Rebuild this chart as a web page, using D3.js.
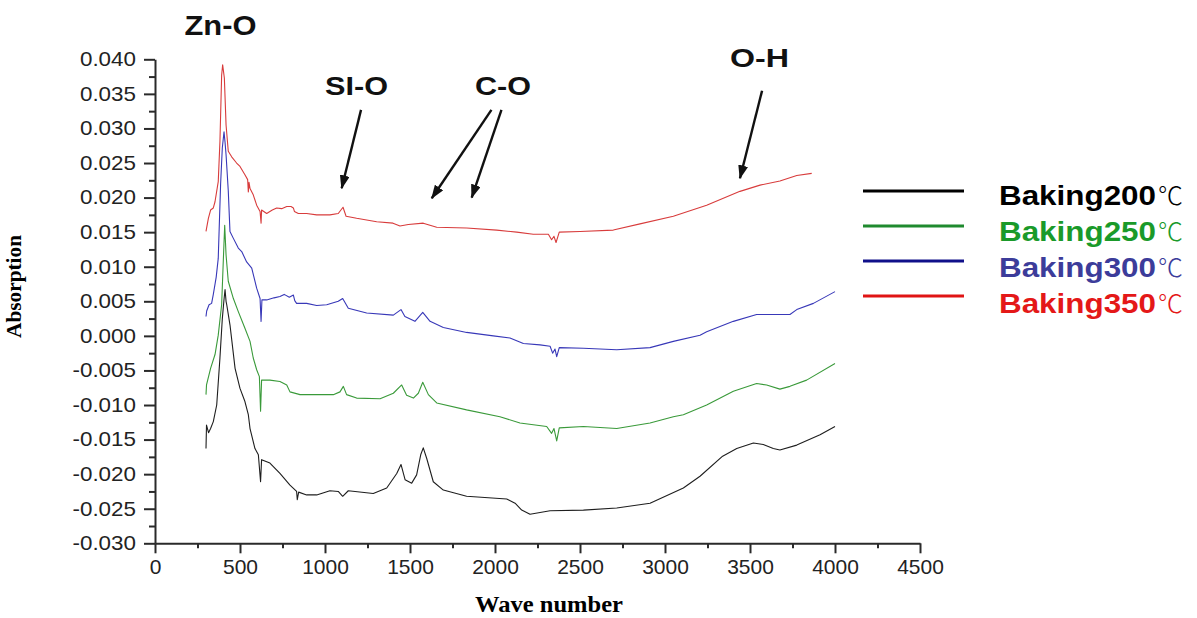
<!DOCTYPE html>
<html>
<head>
<meta charset="utf-8">
<script src="https://cdn.jsdelivr.net/npm/d3@7"></script>
<style>
  body { margin: 0; background: #fff; }
  svg { display: block; }
</style>
</head>
<body>
<svg id="chart" width="1197" height="618"></svg>
<script>
// FTIR absorption spectra, [wave number, absorption]
const baking200 = [
  [300,-0.0163],[303,-0.0129],[315,-0.0140],[327,-0.0134],[343,-0.0124],[363,-0.0100],
  [382,-0.0032],[396,0.0025],[405,0.0050],[412,0.0067],[418,0.0050],[422,0.0045],
  [441,0.0016],[471,-0.0047],[500,-0.0076],[529,-0.0095],[549,-0.0114],[559,-0.0134],
  [588,-0.0163],[608,-0.0172],[621,-0.0211],[627,-0.0179],[676,-0.0184],[735,-0.0199],
  [794,-0.0216],[833,-0.0225],[837,-0.0237],[845,-0.0226],[892,-0.0230],[951,-0.0230],
  [1029,-0.0224],[1078,-0.0225],[1104,-0.0232],[1137,-0.0224],[1284,-0.0228],[1363,-0.0220],
  [1422,-0.0199],[1447,-0.0186],[1471,-0.0208],[1510,-0.0213],[1539,-0.0201],[1563,-0.0172],
  [1578,-0.0162],[1598,-0.0177],[1637,-0.0211],[1696,-0.0223],[1833,-0.0232],[2069,-0.0236],
  [2118,-0.0242],[2157,-0.0252],[2206,-0.0258],[2324,-0.0253],[2520,-0.0252],[2716,-0.0249],
  [2912,-0.0242],[3108,-0.0220],[3206,-0.0203],[3339,-0.0174],[3422,-0.0163],[3520,-0.0155],
  [3578,-0.0157],[3637,-0.0163],[3676,-0.0165],[3775,-0.0158],[3912,-0.0143],[4000,-0.0131]
];
const baking250 = [
  [300,-0.0085],[303,-0.0071],[327,-0.0047],[353,-0.0027],[372,0.0001],[392,0.0045],
  [402,0.0110],[410,0.0160],[418,0.0117],[431,0.0079],[461,0.0054],[490,0.0035],
  [529,0.0011],[559,-0.0008],[578,-0.0032],[598,-0.0049],[614,-0.0059],[621,-0.0109],
  [627,-0.0064],[676,-0.0064],[735,-0.0066],[775,-0.0071],[794,-0.0081],[853,-0.0085],
  [951,-0.0085],[1049,-0.0085],[1088,-0.0081],[1108,-0.0073],[1127,-0.0085],[1186,-0.0090],
  [1324,-0.0091],[1402,-0.0083],[1451,-0.0071],[1480,-0.0086],[1520,-0.0090],[1549,-0.0083],
  [1575,-0.0067],[1608,-0.0085],[1657,-0.0097],[1833,-0.0107],[2029,-0.0117],[2147,-0.0126],
  [2304,-0.0131],[2333,-0.0141],[2347,-0.0134],[2363,-0.0152],[2378,-0.0133],[2520,-0.0131],
  [2716,-0.0134],[2912,-0.0126],[3049,-0.0117],[3108,-0.0114],[3245,-0.0100],[3402,-0.0080],
  [3539,-0.0069],[3598,-0.0071],[3676,-0.0077],[3735,-0.0073],[3833,-0.0064],[4000,-0.0040]
];
const baking300 = [
  [300,0.0028],[304,0.0036],[318,0.0045],[333,0.0047],[343,0.0060],[360,0.0085],
  [372,0.0112],[386,0.0220],[396,0.0272],[406,0.0295],[412,0.0280],[418,0.0262],
  [431,0.0210],[441,0.0151],[461,0.0141],[490,0.0127],[510,0.0122],[539,0.0107],
  [569,0.0098],[585,0.0082],[598,0.0069],[618,0.0054],[624,0.0021],[629,0.0052],
  [657,0.0052],[700,0.0055],[735,0.0057],[760,0.0060],[790,0.0056],[814,0.0059],
  [822,0.0051],[833,0.0047],[892,0.0047],[951,0.0044],[1010,0.0045],[1078,0.0050],
  [1104,0.0054],[1137,0.0040],[1245,0.0033],[1402,0.0030],[1447,0.0038],[1470,0.0028],
  [1529,0.0021],[1575,0.0034],[1618,0.0021],[1696,0.0012],[1833,0.0005],[1990,0.0000],
  [2088,-0.0003],[2167,-0.0011],[2265,-0.0013],[2324,-0.0015],[2339,-0.0025],[2353,-0.0019],
  [2363,-0.0030],[2378,-0.0017],[2520,-0.0018],[2716,-0.0020],[2912,-0.0017],[3049,-0.0008],
  [3206,0.0001],[3245,0.0006],[3402,0.0021],[3539,0.0031],[3637,0.0031],[3735,0.0031],
  [3775,0.0038],[3873,0.0047],[4000,0.0064]
];
const baking350 = [
  [300,0.0151],[314,0.0170],[327,0.0182],[343,0.0185],[353,0.0194],[372,0.0223],
  [382,0.0281],[392,0.0377],[398,0.0392],[408,0.0373],[418,0.0305],[431,0.0267],
  [451,0.0259],[480,0.0250],[500,0.0245],[529,0.0233],[545,0.0226],[549,0.0208],
  [553,0.0222],[559,0.0213],[578,0.0204],[598,0.0189],[618,0.0180],[624,0.0163],
  [627,0.0182],[657,0.0177],[690,0.0182],[716,0.0185],[745,0.0184],[775,0.0187],
  [800,0.0187],[814,0.0185],[820,0.0180],[843,0.0177],[892,0.0177],[951,0.0175],
  [1029,0.0175],[1078,0.0177],[1106,0.0186],[1124,0.0173],[1186,0.0170],[1304,0.0165],
  [1400,0.0163],[1441,0.0159],[1490,0.0161],[1578,0.0163],[1657,0.0157],[1833,0.0156],
  [2010,0.0153],[2128,0.0150],[2225,0.0147],[2314,0.0147],[2333,0.0139],[2347,0.0144],
  [2359,0.0135],[2378,0.0150],[2500,0.0151],[2696,0.0153],[2853,0.0162],[3049,0.0173],
  [3245,0.0189],[3441,0.0209],[3559,0.0218],[3676,0.0224],[3775,0.0232],[3863,0.0235]
];

const seriesNames = ["Baking200", "Baking250", "Baking300", "Baking350"];
const unitLabel = "\u2103";
const lineColors = ["#1e1e1e", "#3a9a3a", "#3838b8", "#d83c3c"];
const legendLineColors = ["#000000", "#1f8a2e", "#10108a", "#e01414"];
const legendTextColors = ["#000000", "#1a9a2a", "#3c3c9a", "#e41818"];

const xTicks = [0, 500, 1000, 1500, 2000, 2500, 3000, 3500, 4000, 4500];
const xMinorTicks = [250, 750, 1250, 1750, 2250, 2750, 3250, 3750, 4250];
const yTicks = [-0.030, -0.025, -0.020, -0.015, -0.010, -0.005, 0.000, 0.005, 0.010, 0.015, 0.020, 0.025, 0.030, 0.035, 0.040];
const yMinorTicks = [-0.0275, -0.0225, -0.0175, -0.0125, -0.0075, -0.0025, 0.0025, 0.0075, 0.0125, 0.0175, 0.0225, 0.0275, 0.0325, 0.0375];

// band labels: text anchor point and arrows, in data units
const bandLabels = [
  { text: "Zn-O", at: [385, 0.04354], width: 72, size: 28 },
  { text: "SI-O", at: [1186, 0.03486], width: 63, size: 26 },
  { text: "C-O",  at: [2047, 0.03486], width: 56, size: 26 },
  { text: "O-H",  at: [3556, 0.03888], width: 59, size: 26 }
];
const bandArrows = [
  { from: [1212, 0.03269], to: [1098, 0.02135] },
  { from: [1979, 0.03269], to: [1628, 0.01990] },
  { from: [2038, 0.03269], to: [1863, 0.02000] },
  { from: [3571, 0.03544], to: [3441, 0.02279] }
];

const svg = d3.select("#chart");
svg.append("rect").attr("width", 1197).attr("height", 618).attr("fill", "#fff");

const x = d3.scaleLinear().domain([0, 4500]).range([155, 920]);
const y = d3.scaleLinear().domain([-0.030, 0.040]).range([543.3, 59.3]);

const fmtY = d => d3.format(".3f")(d).replace("\u2212", "-");
const fmtX = d3.format("d");
const sans = "'Liberation Sans', Arial, sans-serif";
const serif = "'Liberation Serif', 'Times New Roman', serif";
const axisColor = "#2a2a2a";

// minor ticks
svg.append("g").attr("transform", `translate(0,${y(-0.030)})`)
  .call(d3.axisBottom(x).tickValues(xMinorTicks).tickFormat("").tickSizeInner(5).tickSizeOuter(0))
  .call(g => g.select(".domain").remove())
  .call(g => g.selectAll("line").attr("stroke", axisColor).attr("stroke-width", 2));
svg.append("g").attr("transform", `translate(${x(0)},0)`)
  .call(d3.axisLeft(y).tickValues(yMinorTicks).tickFormat("").tickSizeInner(6).tickSizeOuter(0))
  .call(g => g.select(".domain").remove())
  .call(g => g.selectAll("line").attr("stroke", axisColor).attr("stroke-width", 2));

// major axes
svg.append("g").attr("transform", `translate(0,${y(-0.030)})`)
  .call(d3.axisBottom(x).tickValues(xTicks).tickFormat(fmtX).tickSizeInner(10).tickSizeOuter(0).tickPadding(7))
  .call(g => g.select(".domain").attr("stroke", axisColor).attr("stroke-width", 2))
  .call(g => g.selectAll("line").attr("stroke", axisColor).attr("stroke-width", 2))
  .call(g => g.selectAll("text")
    .attr("font-family", sans).attr("font-size", 20).attr("fill", "#222")
    .attr("transform", "scale(1.05,1)"));

svg.append("g").attr("transform", `translate(${x(0)},0)`)
  .call(d3.axisLeft(y).tickValues(yTicks).tickFormat(fmtY).tickSizeInner(11).tickSizeOuter(0).tickPadding(6))
  .call(g => g.select(".domain").attr("stroke", axisColor).attr("stroke-width", 2))
  .call(g => g.selectAll("line").attr("stroke", axisColor).attr("stroke-width", 2))
  .call(g => g.selectAll("text")
    .attr("font-family", sans).attr("font-size", 20).attr("fill", "#222")
    .attr("transform", "scale(1.12,1)"));

// spectra
const line = d3.line().x(d => x(d[0])).y(d => y(d[1]));
[baking200, baking250, baking300, baking350].forEach((s, i) => {
  svg.append("path").datum(s)
    .attr("fill", "none")
    .attr("stroke", lineColors[i])
    .attr("stroke-width", 1.1)
    .attr("stroke-linejoin", "round")
    .attr("d", line);
});

// axis titles
svg.append("text")
  .attr("transform", "translate(21,286.5) rotate(-90)")
  .attr("text-anchor", "middle")
  .attr("font-family", serif).attr("font-weight", "bold").attr("font-size", 21)
  .attr("textLength", 103).attr("lengthAdjust", "spacingAndGlyphs")
  .text("Absorption");
svg.append("text")
  .attr("x", 549).attr("y", 612)
  .attr("text-anchor", "middle")
  .attr("font-family", serif).attr("font-weight", "bold").attr("font-size", 23)
  .attr("textLength", 148).attr("lengthAdjust", "spacingAndGlyphs")
  .text("Wave number");

// band annotations
svg.append("defs").append("marker")
  .attr("id", "arrowHead")
  .attr("markerUnits", "userSpaceOnUse")
  .attr("markerWidth", 14).attr("markerHeight", 10)
  .attr("refX", 13).attr("refY", 5)
  .attr("orient", "auto")
  .append("path").attr("d", "M0,0 L14,5 L0,10 Z").attr("fill", "#111");

bandLabels.forEach(b => {
  svg.append("text")
    .attr("x", x(b.at[0])).attr("y", y(b.at[1]))
    .attr("text-anchor", "middle")
    .attr("font-family", sans).attr("font-weight", "bold").attr("font-size", b.size)
    .attr("textLength", b.width).attr("lengthAdjust", "spacingAndGlyphs")
    .attr("fill", "#111")
    .text(b.text);
});
bandArrows.forEach(a => {
  svg.append("line")
    .attr("x1", x(a.from[0])).attr("y1", y(a.from[1]))
    .attr("x2", x(a.to[0])).attr("y2", y(a.to[1]))
    .attr("stroke", "#111").attr("stroke-width", 2.4)
    .attr("marker-end", "url(#arrowHead)");
});

// legend
const legend = svg.append("g");
seriesNames.forEach((name, i) => {
  legend.append("line")
    .attr("x1", 863).attr("x2", 964)
    .attr("y1", 191 + i * 35).attr("y2", 191 + i * 35)
    .attr("stroke", legendLineColors[i]).attr("stroke-width", 3);
  legend.append("text")
    .attr("x", 999).attr("y", 205 + i * 36)
    .attr("font-family", sans).attr("font-weight", "bold").attr("font-size", 28)
    .attr("fill", legendTextColors[i])
    .attr("textLength", 157).attr("lengthAdjust", "spacingAndGlyphs")
    .text(name);
  legend.append("text")
    .attr("x", 1158).attr("y", 205 + i * 36)
    .attr("font-family", "'Noto Sans CJK SC', sans-serif")
    .attr("font-weight", "300").attr("font-size", 25)
    .attr("fill", legendTextColors[i])
    .text(unitLabel);
});
</script>
</body>
</html>
